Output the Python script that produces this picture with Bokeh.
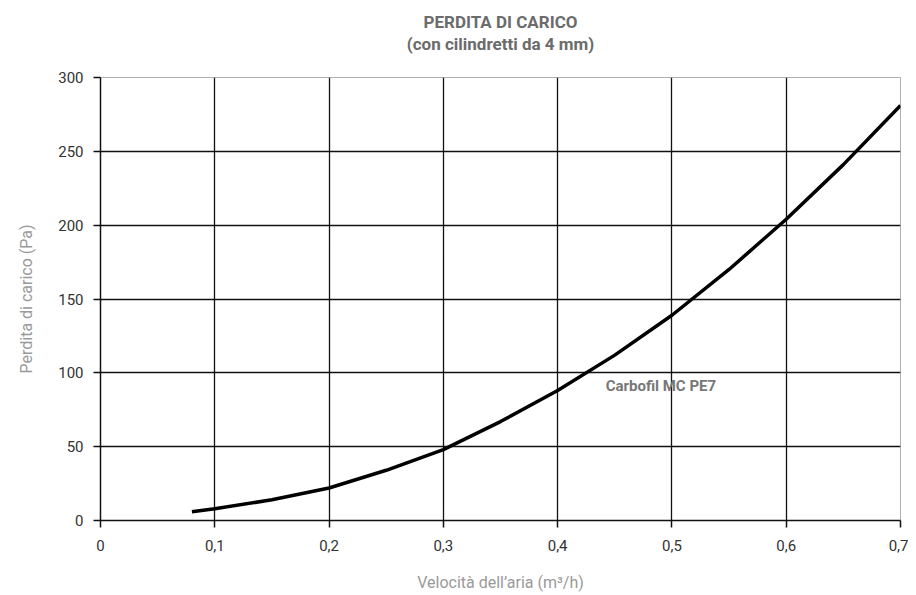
from bokeh.plotting import figure
from bokeh.models import FixedTicker, Label, Range1d, ColumnDataSource
from bokeh.layouts import column
from bokeh.core.properties import value
from bokeh.embed import file_html
from bokeh.resources import INLINE

velocity = [0.08, 0.1, 0.15, 0.2, 0.25, 0.3, 0.35, 0.4, 0.45, 0.5, 0.55, 0.6, 0.65, 0.7]
pressure = [6, 8, 14, 22, 34, 48, 67, 88, 112, 139, 170, 204, 241, 281]
x_ticks = [0, 0.1, 0.2, 0.3, 0.4, 0.5, 0.6, 0.7]
x_labels = ["0", "0,1", "0,2", "0,3", "0,4", "0,5", "0,6", "0,7"]
y_ticks = [0, 50, 100, 150, 200, 250, 300]
series_name = "Carbofil MC PE7"
title_lines = ["PERDITA DI CARICO", "(con cilindretti da 4 mm)"]
x_title = "Velocità dell’aria (m³/h)"
y_title = "Perdita di carico (Pa)"

FONT = "Roboto"

# --- title strip (a text-only figure above the chart) ---
t = figure(width=908, height=69, x_range=Range1d(0, 800), y_range=Range1d(69, 0),
           output_backend="svg", toolbar_location=None,
           min_border_left=100, min_border_right=8, min_border_top=0, min_border_bottom=0)
t.axis.visible = False
t.grid.visible = False
t.outline_line_color = None
t.title.visible = False
tsrc = ColumnDataSource(dict(x=[400, 400], y=[21, 43], text=title_lines))
t.text(x="x", y="y", text="text", source=tsrc, text_font=value(FONT), text_font_size="17px",
       text_font_style="bold", text_color="#6b6b6b", text_align="center", text_baseline="middle")

# --- main chart ---
p = figure(width=908, height=525, x_range=(0, 0.7), y_range=(0, 300),
           output_backend="svg", toolbar_location=None,
           min_border_left=100, min_border_right=8, min_border_top=8, min_border_bottom=67)
p.title.visible = False

p.outline_line_color = "#b0b0b0"
p.background_fill_color = "white"
p.border_fill_color = "white"

for ax in (p.xaxis, p.yaxis):
    ax.axis_line_color = "#111111"
    ax.axis_line_width = 1.5
    ax.major_tick_line_color = "#111111"
    ax.major_tick_line_width = 1.5
    ax.major_tick_out = 7
    ax.major_tick_in = 0
    ax.minor_tick_line_color = None
    ax.major_label_text_font = FONT
    ax.major_label_text_font_size = "15px"
    ax.major_label_text_color = "#333333"
    ax.axis_label_text_font = FONT
    ax.axis_label_text_font_size = "16px"
    ax.axis_label_text_font_style = "normal"
    ax.axis_label_text_color = "#9a9a9a"

p.xaxis.ticker = FixedTicker(ticks=x_ticks)
p.xaxis.major_label_overrides = {tk: lb for tk, lb in zip(x_ticks, x_labels)}
p.yaxis.ticker = FixedTicker(ticks=y_ticks)
p.xaxis.axis_label = x_title
p.yaxis.axis_label = y_title
p.xaxis.major_label_standoff = 12
p.yaxis.major_label_standoff = 10
p.xaxis.axis_label_standoff = 19
p.yaxis.axis_label_standoff = 19

p.xgrid.ticker = FixedTicker(ticks=x_ticks[1:-1])
p.ygrid.ticker = FixedTicker(ticks=y_ticks[1:-1])
p.grid.grid_line_color = "#111111"
p.grid.grid_line_width = 1.3

p.line(velocity, pressure, line_color="black", line_width=3.5)

p.add_layout(Label(x=0.442, y=91, text=series_name, text_font=FONT, text_font_size="15px",
                   text_font_style="bold", text_color="#777777", text_baseline="middle"))

layout = column(t, p, spacing=0)
open("out.html", "w").write(file_html(layout, INLINE))
